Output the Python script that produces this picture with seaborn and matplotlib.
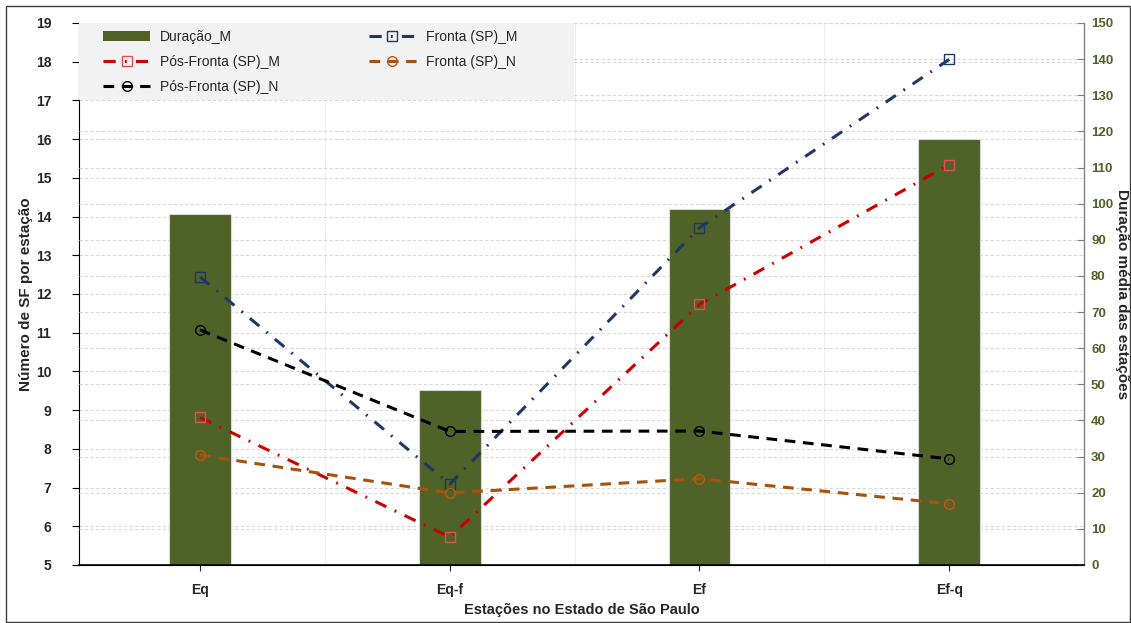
import numpy as np
import pandas as pd
import matplotlib
matplotlib.use("Agg")
import matplotlib.pyplot as plt
from matplotlib.patches import Rectangle
import seaborn as sns

# ---------------- data ----------------
categories = ["Eq", "Eq-f", "Ef", "Ef-q"]
duracao_m = [97.0, 48.5, 98.5, 118.0]
fronta_m = [12.44, 7.09, 13.71, 18.06]
pos_fronta_m = [8.81, 5.72, 11.73, 15.34]
pos_fronta_n = [11.07, 8.45, 8.46, 7.74]
fronta_n = [7.84, 6.86, 7.23, 6.58]
left_ticks = list(range(5, 20))
right_ticks = list(range(0, 151, 10))

sns.set_style("white")
plt.rcParams["font.family"] = ["Liberation Sans", "DejaVu Sans"]

OLIVE = "#4F6228"
NAVY = "#1F3864"
RED = "#CC0000"
BROWN = "#A5520E"

fig = plt.figure(figsize=(11.31, 6.23), dpi=100)
ax = fig.add_axes([0.0698, 0.0931, 0.9585 - 0.0698, 0.9631 - 0.0931])
ax2 = ax.twinx()
ax3 = ax.twinx()

pos = np.arange(len(categories))
df_bar = pd.DataFrame({"cat": categories, "dur": duracao_m})

# bars (right axis)
sns.barplot(data=df_bar, x="cat", y="dur", ax=ax2, color=OLIVE, saturation=1,
            width=0.248, edgecolor="#D8D8D8", linewidth=0.8, order=categories)
ax2.set_ylim(0, 150)
ax2.set_yticks(right_ticks)
ax2.set_axisbelow(True)
ax2.grid(axis="y", color="#D9D9D9", linestyle=(0, (3, 2)), linewidth=0.8)
ax2.set_ylabel("Duração média das estações", rotation=-90, labelpad=11,
               fontsize=11, fontweight="bold")
ax2.tick_params(axis="y", direction="in", length=5, color="#808080", pad=5,
                labelsize=9.5, labelcolor=OLIVE)
for lab in ax2.get_yticklabels():
    lab.set_fontweight("bold")
for s in ["left", "top", "bottom"]:
    ax2.spines[s].set_visible(False)
ax2.spines["right"].set_color("#808080")
ax2.spines["right"].set_linewidth(1.0)

# base axis (left)
ax.set_ylim(5, 19)
ax.set_yticks(left_ticks)
ax.set_xlim(-0.485, 3.54)
ax.set_xticks(pos)
ax.set_xticklabels(categories, fontsize=10, fontweight="bold")
ax.set_xticks([0.5, 1.5, 2.5], minor=True)
ax.grid(axis="y", which="major", color="#D9D9D9", linestyle=(0, (3, 2)), linewidth=0.8)
ax.grid(axis="x", which="minor", color="#EFEFEF", linewidth=0.8)
ax.grid(axis="x", which="major", visible=False)
ax.tick_params(axis="y", direction="out", length=5, width=0.8, color="black",
               pad=15, labelsize=10, left=True)
ax.tick_params(axis="x", which="major", direction="out", length=4, width=0.8,
               pad=9, bottom=True)
ax.tick_params(axis="x", which="minor", length=0)
for lab in ax.get_yticklabels():
    lab.set_fontweight("bold")
ax.set_ylabel("Número de SF por estação", fontsize=11, fontweight="bold", labelpad=2)
ax.set_xlabel("Estações no Estado de São Paulo", fontsize=10.5, fontweight="bold", labelpad=4)
for s in ["top", "right"]:
    ax.spines[s].set_visible(False)
ax.spines["left"].set_color("black")
ax.spines["bottom"].set_color("black")

# lines (left scale, on top)
ax3.set_ylim(5, 19)
ax3.set_yticks([])
for s in ["left", "right", "top"]:
    ax3.spines[s].set_visible(False)
ax3.spines["bottom"].set_color("black")
ax3.spines["bottom"].set_linewidth(1.2)

series = [
    ("Fronta (SP)_M", fronta_m, NAVY, "s", (0, (4, 3, 0.6, 3)), NAVY),
    ("Pós-Fronta (SP)_M", pos_fronta_m, RED, "s", (0, (4, 3, 0.6, 3)), "#E05050"),
    ("Pós-Fronta (SP)_N", pos_fronta_n, "black", "o", (0, (3.5, 2.5)), "black"),
    ("Fronta (SP)_N", fronta_n, BROWN, "o", (0, (3.5, 2.5)), "#C0580E"),
]
handles = {}
for name, vals, col, mk, ls, mec in series:
    n_before = len(ax3.lines)
    sns.lineplot(x=pos, y=vals, ax=ax3, color=col, marker=mk, markersize=7,
                 markerfacecolor="none", markeredgecolor=mec, markeredgewidth=1.0,
                 linewidth=2.2, linestyle=ls, sort=False, label=name)
    handles[name] = ax3.lines[n_before]
if ax3.get_legend() is not None:
    ax3.get_legend().remove()
ax3.set_xlim(-0.485, 3.54)

# legend background box
ax3.add_patch(Rectangle((0.0, 0.857), 0.493, 0.143, transform=ax3.transAxes,
                        facecolor="#F2F2F2", edgecolor="none", zorder=4,
                        clip_on=False))

bar_handle = Rectangle((0, 0), 1, 1, facecolor=OLIVE, edgecolor="none")
h_list = [bar_handle, handles["Pós-Fronta (SP)_M"], handles["Pós-Fronta (SP)_N"],
          handles["Fronta (SP)_M"], handles["Fronta (SP)_N"]]
l_list = ["Duração_M", "Pós-Fronta (SP)_M", "Pós-Fronta (SP)_N",
          "Fronta (SP)_M", "Fronta (SP)_N"]
leg = ax3.legend(h_list, l_list, ncol=2, loc="upper left",
                 bbox_to_anchor=(24 / 1005, 1 - 7 / 542),
                 borderaxespad=0, borderpad=0, frameon=False, fontsize=10,
                 handlelength=3.4, numpoints=1, labelspacing=0.8,
                 columnspacing=6.4, handletextpad=0.7)
leg.set_zorder(5)

# figure border
fig.patches.append(Rectangle((6 / 1131, 1 / 623), 1 - 7 / 1131, 1 - 7 / 623,
                             transform=fig.transFigure, fill=False,
                             edgecolor="#404040", linewidth=1.0))

fig.savefig("out.png", dpi=100)
